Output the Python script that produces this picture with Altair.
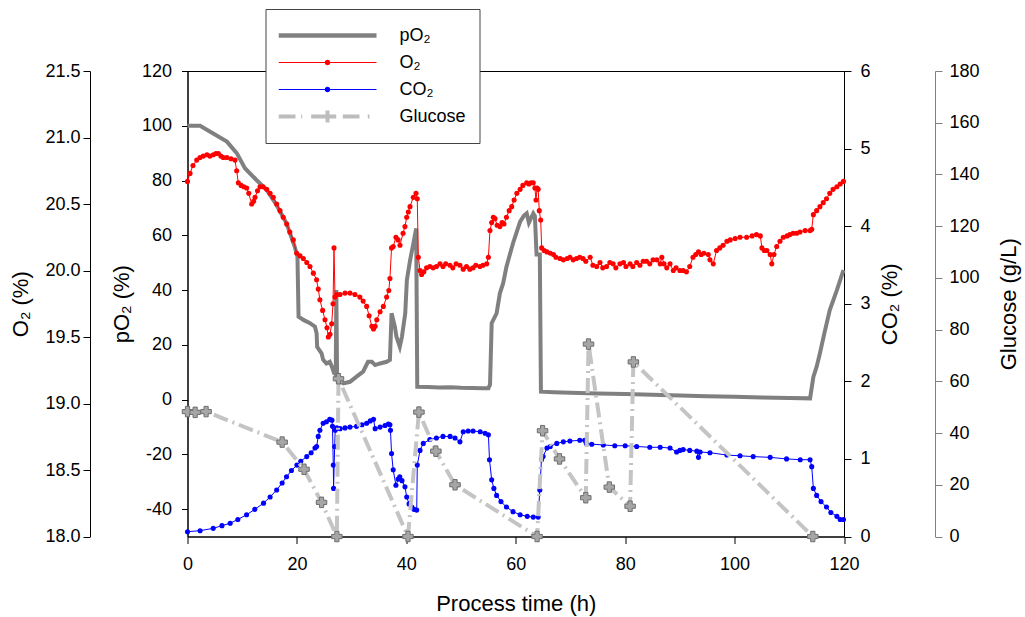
import altair as alt
import pandas as pd

# ---------------- data ----------------
po2_t = [0.0, 2.3, 4.7, 7.2, 9.0, 10.5, 12.6, 14.5, 16.3, 18.1, 19.6, 20.1, 20.3, 21.2, 22.4, 23.3,
         23.6, 23.7, 24.5, 24.8, 25.4, 26.0, 26.4, 26.8, 27.1, 27.2, 27.35, 28.5, 29.7, 30.9, 32.1,
         33.0, 33.7, 34.3, 35.2, 36.4, 37.0, 37.3, 37.9, 38.2, 38.8, 39.2, 39.8, 40.1, 40.7, 41.3,
         41.8, 42.0, 44.0, 46.0, 48.0, 50.0, 52.0, 54.0, 55.0, 55.3, 55.6, 55.9, 56.5, 57.1, 57.7,
         58.3, 59.5, 60.8, 61.5, 62.0, 62.4, 63.2, 63.5, 63.8, 64.4, 64.6, 67.0, 70.0, 75.0, 80.0,
         85.0, 90.0, 95.0, 100.0, 105.0, 110.0, 113.8, 114.4, 115.0, 115.6, 116.5, 117.4, 118.7, 119.9]
po2_v = [100, 100, 97.2, 94.2, 90, 84.5, 80.2, 76.5, 71, 64.4, 55.8, 52.2, 30.3, 29.1, 27.9, 26.6,
         24.2, 19.3, 16.9, 14.5, 13.2, 13.8, 12.0, 9.6, 9.2, 40, 7.1, 5.9, 6.5, 8.4, 10.2,
         13.8, 13.8, 12.6, 13.2, 13.8, 14.5, 31.5, 26.6, 22.9, 19.3, 23.0, 31.5, 43.7, 51.0, 57.1,
         62.5, 4.7, 4.6, 4.4, 4.5, 4.3, 4.2, 4.1, 4.1, 5.5, 27.9, 29.1, 31.5, 38.8, 42.5,
         48.5, 57.1, 65.0, 67.2, 68.0, 64.6, 68.0, 67.0, 53.0, 53.0, 2.9, 2.7, 2.5, 2.2, 2.0,
         1.8, 1.5, 1.2, 1.0, 0.8, 0.6, 0.45, 8.3, 12.0, 16.9, 25.0, 32.7, 40.0, 47.3]

o2_t = [0.0, 0.46, 1.0, 1.68, 2.28, 2.89, 3.56, 4.1, 4.72, 5.2, 5.63, 6.1, 6.54, 7.2, 7.95, 8.68,
        8.99, 9.29, 9.8, 10.3, 10.82, 11.2, 11.73, 12.1, 12.34, 12.8, 13.25, 13.8, 14.48, 15.1,
        15.68, 16.3, 16.9, 17.5, 18.13, 18.7, 19.34, 19.96, 20.56, 21.17, 21.8, 22.39, 23.0, 23.6,
        23.9, 24.2, 24.7, 25.13, 25.5, 25.74, 26.05, 26.36, 26.6, 26.78, 26.96, 27.3, 27.87, 28.8,
        29.7, 30.6, 31.5, 32.1, 32.75, 33.2, 33.7, 34.0, 34.3, 34.6, 35.2, 35.8, 36.4, 36.8, 37.0,
        37.3, 37.6, 38.1, 38.5, 38.84, 39.4, 39.75, 40.07, 40.36, 40.67, 41.27, 41.77, 42.0, 42.19,
        42.5, 42.8, 43.2, 43.7, 44.3, 44.9, 45.5, 46.15, 46.7, 47.2, 47.98, 48.5, 49.1, 49.8, 50.4,
        51.0, 51.6, 52.2, 52.7, 53.46, 54.0, 54.7, 55.0, 55.29, 55.6, 55.9, 56.2, 56.6, 57.1, 57.5,
        57.85, 58.3, 58.8, 59.26, 59.7, 60.2, 60.8, 61.3, 62.0, 62.4, 62.8, 63.2, 63.5, 63.7, 63.9,
        64.1, 64.3, 64.56, 64.74, 65.2, 65.7, 66.3, 66.9, 67.35, 68.1, 68.7, 69.4, 69.9, 70.5, 71.1,
        71.7, 72.3, 72.8, 73.6, 74.1, 74.8, 75.4, 75.9, 76.6, 77.2, 77.8, 78.3, 79.05, 79.7, 80.15,
        80.9, 81.4, 82.1, 82.7, 83.3, 83.9, 84.5, 85.1, 85.8, 86.4, 86.7, 87.1, 87.6, 88.2, 88.8,
        89.3, 90.0, 90.6, 91.2, 91.8, 92.4, 92.9, 93.4, 93.9, 94.4, 95.2, 95.5, 96.1, 96.7, 97.3,
        97.9, 98.6, 99.2, 100.1, 101.0, 102.2, 103.2, 104.0, 104.7, 105.0, 105.4, 105.9, 106.5,
        106.8, 107.2, 107.7, 108.3, 108.9, 109.6, 110.1, 110.7, 111.35, 111.96, 112.9, 113.8, 114.1,
        114.4, 115.0, 115.6, 116.2, 116.8, 117.4, 118.0, 118.7, 119.3, 119.9]
o2_v = [20.67, 20.73, 20.79, 20.83, 20.85, 20.86, 20.87, 20.86, 20.87, 20.88, 20.88, 20.86, 20.85,
        20.85, 20.84, 20.83, 20.75, 20.66, 20.64, 20.63, 20.62, 20.58, 20.50, 20.52, 20.55, 20.60,
        20.63, 20.63, 20.61, 20.58, 20.55, 20.50, 20.45, 20.40, 20.35, 20.29, 20.23, 20.13, 20.11,
        20.09, 20.06, 20.03, 19.98, 19.93, 19.86, 19.78, 19.70, 19.63, 19.57, 19.50, 19.52, 19.60,
        19.75, 20.17, 19.80, 19.82, 19.82, 19.83, 19.83, 19.82, 19.80, 19.77, 19.73, 19.66, 19.58,
        19.56, 19.58, 19.63, 19.69, 19.73, 19.80, 19.85, 19.94, 20.17, 20.18, 20.25, 20.23, 20.19,
        20.28, 20.33, 20.40, 20.44, 20.48, 20.55, 20.58, 20.54, 20.10, 20.00, 19.97, 19.99, 20.02,
        20.03, 20.02, 20.03, 20.05, 20.03, 20.05, 20.04, 20.02, 20.05, 20.04, 20.01, 20.03, 20.01,
        20.02, 20.04, 20.03, 20.04, 20.05, 20.10, 20.30, 20.36, 20.40, 20.39, 20.34, 20.33, 20.36,
        20.35, 20.40, 20.45, 20.48, 20.53, 20.58, 20.61, 20.64, 20.66, 20.65, 20.66, 20.66, 20.62,
        20.53, 20.62, 20.61, 20.45, 20.38, 20.17, 20.15, 20.14, 20.13, 20.12, 20.10, 20.09, 20.08,
        20.09, 20.10, 20.08, 20.09, 20.10, 20.09, 20.07, 20.10, 20.04, 20.03, 20.06, 20.02, 20.03,
        20.06, 20.05, 20.02, 20.05, 20.06, 20.03, 20.05, 20.03, 20.06, 20.04, 20.07, 20.07, 20.05,
        20.08, 20.08, 20.05, 20.10, 20.05, 20.02, 20.05, 20.00, 20.02, 20.00, 20.00, 19.99, 20.03,
        20.10, 20.12, 20.14, 20.12, 20.13, 20.12, 20.08, 20.05, 20.15, 20.17, 20.19, 20.22, 20.23,
        20.24, 20.25, 20.25, 20.26, 20.27, 20.26, 20.17, 20.15, 20.15, 20.12, 20.05, 20.12, 20.18,
        20.22, 20.25, 20.26, 20.27, 20.28, 20.28, 20.29, 20.30, 20.30, 20.31, 20.42, 20.45, 20.48,
        20.51, 20.54, 20.58, 20.61, 20.63, 20.65, 20.67]

co2_t = [0.0, 2.3, 4.7, 6.3, 7.8, 9.2, 10.8, 12.3, 13.9, 15.1, 16.3, 17.3, 18.1, 19.0, 20.0, 20.7,
         21.8, 22.6, 23.3, 23.6, 23.9, 24.2, 24.8, 25.4, 26.0, 26.4, 26.5, 26.65, 26.7, 26.9, 27.0,
         27.3, 27.9, 28.8, 29.7, 30.9, 31.9, 32.75, 33.4, 34.0, 34.3, 35.2, 36.1, 36.7, 37.0, 37.1,
         37.3, 37.6, 38.1, 38.5, 38.8, 39.2, 39.75, 40.07, 40.5, 41.0, 41.4, 41.9, 42.0, 42.5, 43.1,
         44.3, 45.5, 46.7, 48.0, 48.9, 49.8, 50.4, 51.3, 52.2, 53.5, 54.4, 55.0, 55.2, 55.6, 56.0,
         56.5, 57.3, 58.3, 59.5, 60.8, 62.1, 63.2, 64.1, 64.4, 64.7, 65.0, 65.7, 66.3, 67.5, 68.7,
         69.9, 71.7, 72.6, 72.9, 73.9, 76.0, 78.1, 80.0, 82.1, 84.5, 86.4, 88.2, 89.4, 90.0, 90.6,
         91.8, 93.1, 93.4, 93.7, 95.5, 98.6, 101.0, 103.4, 106.5, 109.5, 112.0, 113.8, 114.1, 114.4,
         115.0, 115.8, 116.8, 117.6, 118.7, 119.3, 119.9]
co2_v = [0.062, 0.075, 0.105, 0.14, 0.17, 0.22, 0.28, 0.35, 0.43, 0.51, 0.60, 0.69, 0.77, 0.85,
         0.92, 0.97, 1.03, 1.08, 1.14, 1.16, 1.29, 1.37, 1.46, 1.48, 1.51, 1.50, 1.42, 0.92, 0.62,
         1.16, 1.37, 1.40, 1.39, 1.40, 1.41, 1.42, 1.44, 1.46, 1.49, 1.51, 1.39, 1.41, 1.43, 1.45,
         1.44, 1.37, 1.07, 0.86, 0.66, 0.74, 0.77, 0.72, 0.64, 0.51, 0.42, 0.38, 0.35, 0.34, 0.92,
         1.11, 1.20, 1.25, 1.27, 1.29, 1.29, 1.27, 1.22, 1.35, 1.36, 1.36, 1.35, 1.33, 1.31, 0.99,
         0.73, 0.62, 0.53, 0.45, 0.38, 0.32, 0.28, 0.26, 0.25, 0.25, 0.60, 0.99, 1.03, 1.14, 1.16,
         1.20, 1.22, 1.23, 1.24, 1.24, 1.20, 1.19, 1.18, 1.17, 1.17, 1.16, 1.15, 1.15, 1.14, 1.09,
         1.11, 1.12, 1.11, 1.10, 1.02, 1.09, 1.08, 1.05, 1.04, 1.03, 1.02, 1.00, 0.99, 0.99, 0.90,
         0.62, 0.53, 0.45, 0.38, 0.31, 0.26, 0.22, 0.22]

glu_t = [0.0, 1.4, 3.4, 17.3, 21.3, 24.5, 27.3, 27.6, 40.3, 42.3, 45.4, 48.9, 63.9, 64.9, 68.0,
         72.8, 73.3, 77.1, 80.9, 81.5, 114.3]
glu_v = [48.3, 48.0, 48.3, 36.5, 26.0, 13.2, 0.0, 61.0, 0.0, 48.1, 33.0, 20.0, 0.0, 40.9, 30.0,
         15.0, 74.4, 19.1, 11.7, 67.5, 0.0]

series_names = ["pO₂", "O₂", "CO₂", "Glucose"]
series_colors = ["#808080", "#ff0000", "#0000ff", "#bdbdbd"]

# ---------------- legend symbols (unit-box SVG paths) ----------------
def rect(x0, x1, h):
    return f"M {x0} {-h} L {x1} {-h} L {x1} {h} L {x0} {h} Z "

def circ(r):
    return f"M {-r} 0 A {r} {r} 0 1 0 {r} 0 A {r} {r} 0 1 0 {-r} 0 Z "

line_dot = rect(-1, -0.057, 0.0102) + rect(0.057, 1, 0.0102) + circ(0.057)
sym_paths = [
    rect(-1, 1, 0.046),
    line_dot,
    line_dot,
    rect(-1, -0.653, 0.041) + rect(-0.537, -0.516, 0.041) + rect(-0.333, 0.178, 0.041)
    + rect(-0.041, 0.041, 0.122) + rect(-0.122, 0.122, 0.041)
    + rect(0.312, 0.653, 0.041) + rect(0.822, 0.857, 0.041),
]

FONT = "Liberation Sans"
TICK = 18
TITLE = 22

po2_df = pd.DataFrame({"t": po2_t, "v": po2_v})
o2_df = pd.DataFrame({"t": o2_t, "v": o2_v})
co2_df = pd.DataFrame({"t": co2_t, "v": co2_v})
glu_df = pd.DataFrame({"t": glu_t, "v": glu_v})
leg_df = pd.DataFrame({"series": series_names})

common = dict(grid=False, labelFlush=False, labelOverlap=False, labelFont=FONT, titleFont=FONT,
              labelFontSize=TICK, titleFontSize=TITLE, labelColor="black", titleColor="black",
              titleFontWeight="normal", domainColor="black", tickColor="black")

def axis(**kw):
    d = dict(common)
    d.update(kw)
    return alt.Axis(**d)

x_enc = alt.X(
    "t:Q",
    scale=alt.Scale(domain=[0, 120], nice=False, zero=False),
    axis=axis(title="Process time (h)", values=list(range(0, 121, 20)),
              tickSize=7, labelPadding=12, titlePadding=20),
)

po2 = alt.Chart(po2_df).mark_line(color="#808080", strokeWidth=4).encode(
    x=x_enc,
    y=alt.Y("v:Q", scale=alt.Scale(domain=[-50, 120], nice=False, zero=False),
            axis=axis(title="pO₂ (%)", orient="left", values=list(range(-40, 121, 20)),
                      labelExpr="replace(datum.label, '\u2212', '-')",
                      tickSize=6, labelPadding=10, titlePadding=8)),
)

o2 = alt.Chart(o2_df).mark_line(
    color="#ff0000", strokeWidth=1,
    point=alt.OverlayMarkDef(filled=True, color="#ff0000", size=26),
).encode(
    x=x_enc,
    y=alt.Y("v:Q", scale=alt.Scale(domain=[18, 21.5], nice=False, zero=False),
            axis=axis(title="O₂ (%)", orient="left", offset=97.5,
                      values=[18.0, 18.5, 19.0, 19.5, 20.0, 20.5, 21.0, 21.5], format=".1f",
                      tickSize=7, labelPadding=3, titlePadding=12)),
)

co2 = alt.Chart(co2_df).mark_line(
    color="#0000ff", strokeWidth=1,
    point=alt.OverlayMarkDef(filled=True, color="#0000ff", size=26),
).encode(
    x=x_enc,
    y=alt.Y("v:Q", scale=alt.Scale(domain=[0, 6], nice=False, zero=False),
            axis=axis(title="CO₂ (%)", orient="right", values=list(range(0, 7)),
                      tickSize=7, labelPadding=9, titlePadding=9, titleAngle=270,
                      titleBaseline="top")),
)

glu = alt.Chart(glu_df).mark_line(
    color="#c4c4c4", strokeWidth=4, strokeDash=[15, 5, 2, 5],
    point=alt.OverlayMarkDef(shape="cross", filled=True, fill="#a6a6a6", stroke="#6e6e6e",
                             strokeWidth=1, size=110),
).encode(
    x=x_enc,
    y=alt.Y("v:Q", scale=alt.Scale(domain=[0, 180], nice=False, zero=False),
            axis=axis(title="Glucose (g/L)", orient="right", offset=91,
                      values=list(range(0, 181, 20)), domainColor="#808080",
                      tickColor="#808080", tickSize=7, labelPadding=7, titlePadding=19,
                      titleAngle=270, titleBaseline="top")),
)

leg = alt.Legend(
    title=None, orient="none", legendX=78, legendY=-62, direction="vertical",
    symbolSize=9604, clipHeight=27, rowPadding=0, symbolOffset=0, labelOffset=23,
    padding=13, strokeColor="#444444", fillColor="white", cornerRadius=0,
    labelFont=FONT, labelFontSize=18, labelColor="black", symbolStrokeWidth=0,
    symbolOpacity=1, labelLimit=200,
)

legend_layer = alt.Chart(leg_df).mark_point(filled=True, opacity=0, size=9604).encode(
    shape=alt.Shape("series:N", scale=alt.Scale(domain=series_names, range=sym_paths),
                    sort=series_names, legend=leg),
    color=alt.Color("series:N", scale=alt.Scale(domain=series_names, range=series_colors),
                    sort=series_names, legend=leg),
)

chart = alt.layer(po2, o2, co2, glu, legend_layer).resolve_scale(
    y="independent"
).properties(
    width=656.5, height=465.5,
    autosize=alt.AutoSizeParams(type="none"),
    padding={"left": 187.5, "top": 71, "right": 181, "bottom": 80.5},
).configure_view(
    stroke="black", strokeWidth=1
)

chart.save("out.html", embed_options={"renderer": "svg", "actions": False})
